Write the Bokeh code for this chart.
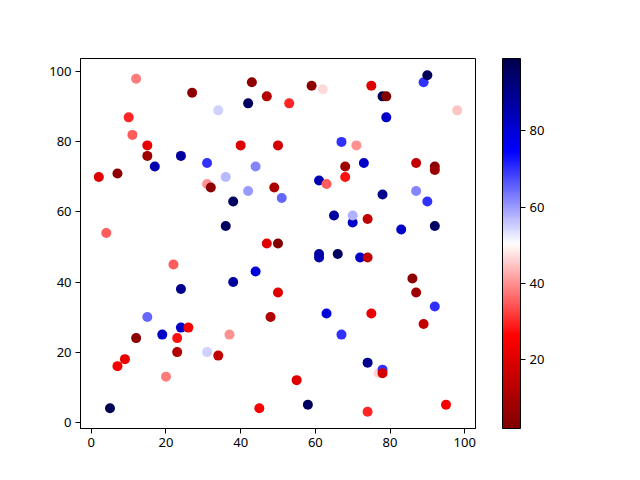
import numpy as np
from bokeh.plotting import figure
from bokeh.models import ColumnDataSource, LinearColorMapper, ColorBar, FixedTicker, Range1d
from bokeh.embed import file_html
from bokeh.resources import INLINE

# data
xs = [5, 7, 9, 12, 15, 19, 20, 22, 23, 23, 24, 24, 26, 31, 34, 37, 38, 44, 45, 48,
      50, 55, 58, 61, 61, 63, 66, 67, 72, 74, 74, 74, 75, 77, 78, 78, 86, 87, 89, 92,
      95, 2, 4, 7, 10, 11, 12, 15, 15, 17, 24, 27, 31, 31, 32, 34, 36, 36, 38, 40,
      42, 42, 43, 44, 47, 47, 49, 50, 50, 51, 53, 59, 62, 61, 63, 65, 67, 68, 68, 70,
      70, 71, 73, 74, 75, 78, 79, 78, 79, 83, 87, 87, 89, 90, 90, 92, 92, 92, 98]
ys = [4, 16, 18, 24, 30, 25, 13, 45, 24, 20, 27, 38, 27, 20, 19, 25, 40, 43, 4, 30,
      37, 12, 5, 48, 47, 31, 48, 25, 47, 47, 17, 3, 31, 14, 15, 14, 41, 37, 28, 33,
      5, 70, 54, 71, 87, 82, 98, 79, 76, 73, 76, 94, 74, 68, 67, 89, 70, 56, 63, 79,
      66, 91, 97, 73, 93, 51, 67, 79, 51, 64, 91, 96, 95, 69, 68, 59, 80, 73, 70, 57,
      59, 79, 74, 58, 96, 93, 93, 65, 87, 55, 74, 66, 97, 99, 63, 73, 72, 56, 89]
cs = [98, 25, 22, 5, 65, 82, 38, 35, 28, 12, 82, 90, 25, 55, 15, 40, 88, 80, 25, 12,
      20, 20, 96, 88, 86, 80, 96, 70, 82, 15, 90, 30, 22, 46, 70, 18, 5, 8, 15, 70,
      25, 20, 35, 5, 30, 35, 38, 22, 8, 85, 88, 5, 70, 40, 5, 55, 57, 96, 96, 20,
      60, 96, 5, 62, 12, 20, 10, 18, 3, 65, 30, 5, 47, 85, 35, 88, 70, 8, 28, 82,
      58, 40, 82, 15, 20, 99, 2, 90, 82, 82, 15, 62, 70, 97, 70, 4, 7, 96, 45]

x_ticks = [0, 20, 40, 60, 80, 100]
y_ticks = [0, 20, 40, 60, 80, 100]
cbar_ticks = [20, 40, 60, 80]


def seismic_r(n=256):
    stops = [0.0, 0.25, 0.5, 0.75, 1.0]
    cols = np.array([(0, 0, 0.3), (0, 0, 1), (1, 1, 1), (1, 0, 0), (0.5, 0, 0)])
    t = np.linspace(0, 1, n)
    rgb = np.stack([np.interp(t, stops, cols[:, k]) for k in range(3)], axis=1)
    rgb = rgb[::-1]
    return ["#%02x%02x%02x" % tuple(int(round(v * 255)) for v in c) for c in rgb]


palette = seismic_r()
mapper = LinearColorMapper(palette=palette, low=min(cs), high=max(cs))

src = ColumnDataSource(dict(x=xs, y=ys, c=cs))

p = figure(width=632, height=472, output_backend="svg", toolbar_location=None,
           x_range=Range1d(-2.9, 102.9), y_range=Range1d(-1.8, 103.8),
           min_border_left=80, min_border_top=58, min_border_bottom=44,
           min_border_right=157)
p.scatter("x", "y", source=src, size=10, line_color=None,
          fill_color={"field": "c", "transform": mapper})

p.grid.visible = False
p.outline_line_color = "black"
p.outline_line_width = 1
p.outline_line_alpha = 1
for ax, tk in ((p.xaxis, x_ticks), (p.yaxis, y_ticks)):
    ax.ticker = FixedTicker(ticks=tk)
    ax.minor_tick_line_color = None
    ax.major_tick_in = 0
    ax.major_tick_out = 5
    ax.major_tick_line_color = "black"
    ax.axis_line_color = "black"
    ax.major_label_text_font = "Noto Sans"
    ax.major_label_text_font_size = "13px"
    ax.major_label_text_color = "black"
    ax.major_label_standoff = 4

cb = ColorBar(color_mapper=mapper, width=18, height=370, padding=0, margin=0,
              location=(27, 0), ticker=FixedTicker(ticks=cbar_ticks),
              major_tick_in=0, major_tick_out=5, major_tick_line_color="black",
              minor_tick_line_color=None, bar_line_color="black",
              major_label_text_font="Noto Sans", major_label_text_font_size="13px",
              major_label_text_color="black", label_standoff=4,
              background_fill_color=None, border_line_color=None)
p.add_layout(cb, "right")

open("out.html", "w").write(file_html(p, INLINE))
